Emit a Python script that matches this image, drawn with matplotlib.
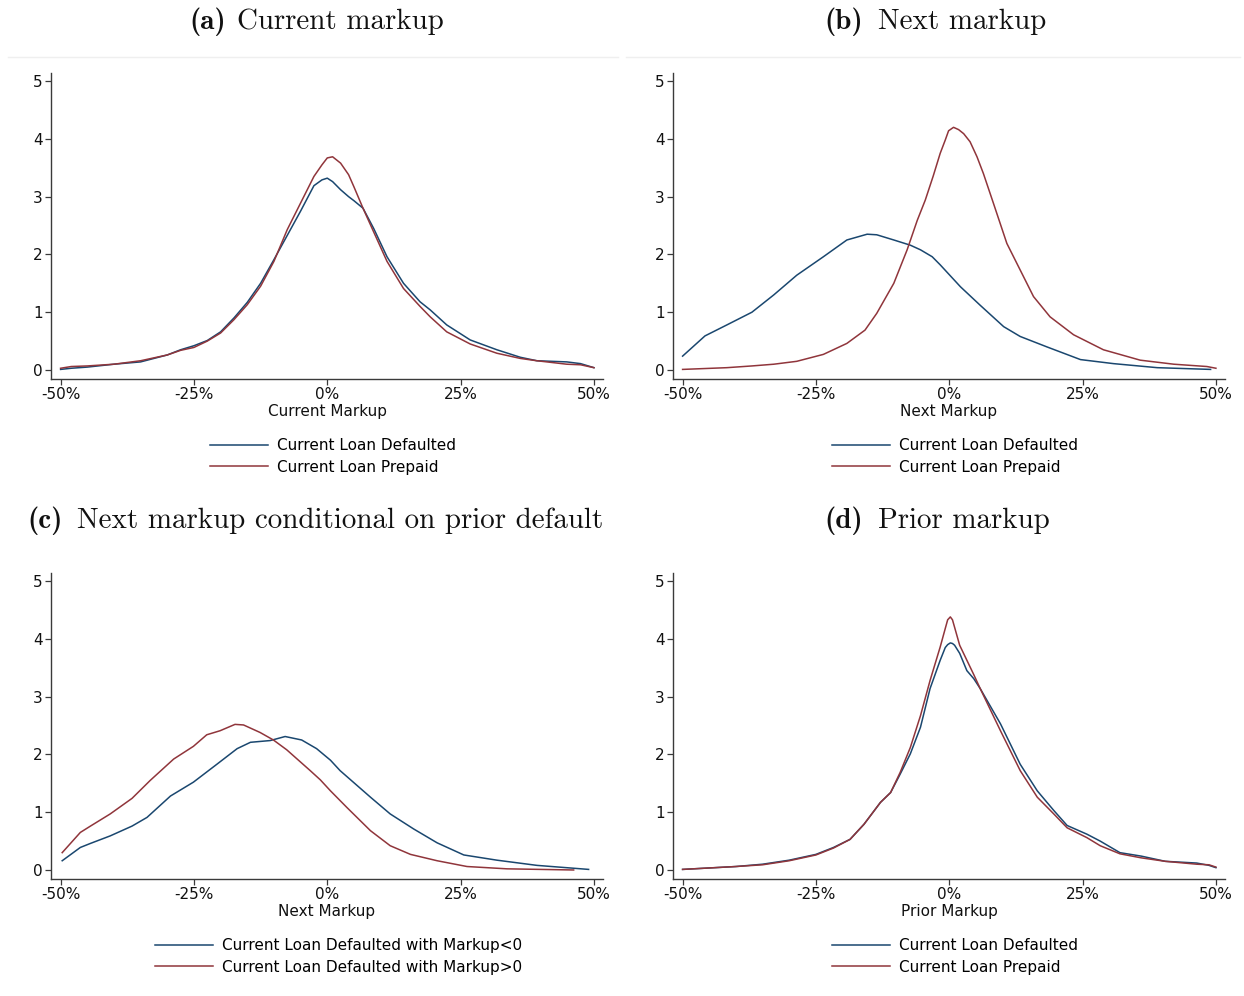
import matplotlib
matplotlib.use("Agg")
import matplotlib.pyplot as plt
from matplotlib.lines import Line2D

# ---------------- data ----------------
xtick_vals = [-50, -25, 0, 25, 50]
xtick_labels = ["-50%", "-25%", "0%", "25%", "50%"]
ytick_vals = [0, 1, 2, 3, 4, 5]

titles = ["(a)", "(b)", "(c)", "(d)"]
title_texts = ["Current markup", "Next markup",
               "Next markup conditional on prior default", "Prior markup"]
xlabels = ["Current Markup", "Next Markup", "Next Markup", "Prior Markup"]
legend_std = ["Current Loan Defaulted", "Current Loan Prepaid"]
legend_c = ["Current Loan Defaulted with Markup<0",
            "Current Loan Defaulted with Markup>0"]

# (a) current markup
a_x = [-50, -48, -45, -40, -35, -30, -27.5, -25, -22.5, -20, -17.5, -15, -12.5,
       -10, -7.5, -5, -2.5, -1, 0, 1, 2.5, 4, 5, 6.7, 8.7, 11.2, 14.3, 17.4,
       19.3, 22.4, 26.8, 31.8, 36.2, 39.3, 44.9, 47.5, 50]
a_blue = [0.01, 0.03, 0.05, 0.10, 0.14, 0.26, 0.35, 0.42, 0.51, 0.66, 0.90, 1.17,
          1.50, 1.91, 2.33, 2.75, 3.19, 3.29, 3.32, 3.26, 3.12, 3.00, 2.93, 2.80,
          2.45, 1.96, 1.50, 1.18, 1.04, 0.78, 0.52, 0.35, 0.22, 0.16, 0.14, 0.11, 0.04]
a_red = [0.03, 0.06, 0.07, 0.10, 0.16, 0.26, 0.34, 0.39, 0.50, 0.64, 0.87, 1.13,
         1.45, 1.88, 2.43, 2.89, 3.35, 3.55, 3.67, 3.69, 3.58, 3.38, 3.17, 2.80,
         2.39, 1.88, 1.41, 1.10, 0.92, 0.66, 0.45, 0.29, 0.20, 0.16, 0.10, 0.09, 0.04]

# (b) next markup
b_x_blue = [-50, -45.8, -41.7, -37, -32.9, -28.6, -23.6, -19.2, -15.4, -13.6, -10.4,
            -7.3, -5.4, -3.2, -1.7, 0.2, 2.1, 5.8, 10.2, 13.3, 18.3, 24.6, 30.8, 39, 49]
b_blue = [0.24, 0.59, 0.78, 1.00, 1.30, 1.64, 1.96, 2.25, 2.35, 2.34, 2.25, 2.16,
          2.08, 1.96, 1.82, 1.63, 1.44, 1.12, 0.75, 0.58, 0.40, 0.18, 0.11, 0.04, 0.01]
b_x_red = [-50, -41.7, -37, -32.9, -28.6, -23.6, -19.2, -15.8, -13.6, -10.4, -7.9,
           -6.0, -4.5, -3.0, -1.7, -0.75, -0.13, 0.8, 1.75, 2.7, 3.9, 5.2, 6.4, 8.3,
           10.8, 13.3, 15.8, 18.9, 23.3, 28.9, 35.8, 42.1, 48.3, 50]
b_red = [0.01, 0.04, 0.07, 0.10, 0.15, 0.27, 0.46, 0.69, 0.98, 1.50, 2.08, 2.59,
         2.94, 3.36, 3.75, 3.98, 4.14, 4.20, 4.16, 4.09, 3.95, 3.69, 3.40, 2.88,
         2.19, 1.73, 1.27, 0.92, 0.61, 0.35, 0.17, 0.10, 0.06, 0.03]

# (c) next markup conditional on prior default
c_x_blue = [-49.7, -46.3, -44.4, -40.7, -36.6, -33.8, -29.4, -25.1, -20.7, -16.9,
            -14.4, -10.7, -7.9, -4.8, -2.0, 0.6, 2.4, 8.1, 11.8, 16.2, 20.6, 25.6,
            31.8, 39.3, 49.0]
c_blue = [0.16, 0.39, 0.46, 0.59, 0.76, 0.91, 1.28, 1.52, 1.83, 2.10, 2.21, 2.24,
          2.31, 2.25, 2.10, 1.90, 1.72, 1.26, 0.97, 0.71, 0.47, 0.26, 0.17, 0.08, 0.01]
c_x_red = [-49.7, -46.3, -44.4, -40.7, -36.6, -33.2, -28.8, -25.1, -22.6, -20.1,
           -17.3, -15.7, -12.6, -10.1, -7.6, -3.2, -1.3, 0.6, 3.7, 8.1, 11.8, 15.6,
           20.6, 26.2, 33.7, 46.2]
c_red = [0.30, 0.65, 0.76, 0.97, 1.24, 1.55, 1.92, 2.14, 2.34, 2.41, 2.52, 2.51,
         2.38, 2.25, 2.08, 1.72, 1.56, 1.37, 1.08, 0.68, 0.42, 0.27, 0.16, 0.06,
         0.02, 0.00]

# (d) prior markup
d_x = [-50, -40, -35, -30, -25, -21.7, -18.6, -16, -12.9, -11, -9.2, -7.3, -5.4,
       -3.6, -1.7, -0.75, -0.3, 0.2, 0.6, 1.0, 1.95, 3.3, 4.6, 5.8, 9.6, 13.3, 16.5,
       19.6, 22.1, 25.8, 28.3, 32, 36, 40.5, 46.4, 48.7, 50]
d_blue = [0.01, 0.06, 0.10, 0.17, 0.27, 0.39, 0.53, 0.79, 1.17, 1.34, 1.66, 2.01,
          2.47, 3.14, 3.63, 3.85, 3.90, 3.93, 3.92, 3.89, 3.75, 3.45, 3.31, 3.14,
          2.53, 1.83, 1.37, 1.03, 0.77, 0.62, 0.50, 0.30, 0.24, 0.15, 0.12, 0.08, 0.04]
d_red = [0.01, 0.06, 0.09, 0.16, 0.26, 0.38, 0.53, 0.79, 1.17, 1.34, 1.69, 2.12,
         2.67, 3.28, 3.86, 4.18, 4.33, 4.38, 4.33, 4.20, 3.89, 3.63, 3.38, 3.14,
         2.41, 1.72, 1.26, 0.97, 0.73, 0.56, 0.42, 0.28, 0.21, 0.15, 0.10, 0.09, 0.05]

# ---------------- styling ----------------
NAVY = "#1a476f"
MAROON = "#90353b"
SPINE = "#3a3a3a"
W, H = 1244, 996

plt.rcParams["font.family"] = ["DejaVu Sans"]

fig = plt.figure(figsize=(W / 100, H / 100), dpi=100)

def fx(px):
    return px / W

def fy(py):
    return 1 - py / H

# axes boxes in pixels: left, top, right, bottom
boxes = [(51, 73, 603, 379), (673, 73, 1225, 379),
         (51, 573, 603, 879), (673, 573, 1225, 879)]
# (right edge of bold label, left edge of title text, y centre)
title_pos = [(226, 237, 22), (863, 878, 22), (63, 77, 521), (863, 878, 521)]
legend_pos = [(210, 438), (832, 438), (155, 938), (832, 938)]

series = [
    ((a_x, a_blue), (a_x, a_red), legend_std),
    ((b_x_blue, b_blue), (b_x_red, b_red), legend_std),
    ((c_x_blue, c_blue), (c_x_red, c_red), legend_c),
    ((d_x, d_blue), (d_x, d_red), legend_std),
]

for i, (box, (sb, sr, labs)) in enumerate(zip(boxes, series)):
    l, t, r, b = box
    ax = fig.add_axes([fx(l), fy(b), (r - l) / W, (b - t) / H])
    ax.plot(sb[0], sb[1], color=NAVY, lw=1.1, label=labs[0])
    ax.plot(sr[0], sr[1], color=MAROON, lw=1.1, label=labs[1])
    ax.set_xlim(-51.8, 51.7)
    ax.set_ylim(-0.156, 5.14)
    ax.set_xticks(xtick_vals)
    ax.set_xticklabels(xtick_labels)
    ax.set_yticks(ytick_vals)
    ax.set_yticklabels([str(v) for v in ytick_vals])
    for s in ["top", "right"]:
        ax.spines[s].set_visible(False)
    for s in ["left", "bottom"]:
        ax.spines[s].set_color(SPINE)
        ax.spines[s].set_linewidth(1.0)
    ax.tick_params(axis="both", direction="out", length=4, width=0.9,
                   color=SPINE, labelsize=11, pad=2, labelcolor="#111111")
    ax.set_xlabel(xlabels[i], fontsize=11, labelpad=1, color="#111111")
    ax.legend(loc="upper left", bbox_to_anchor=(fx(legend_pos[i][0]), fy(legend_pos[i][1])),
              bbox_transform=fig.transFigure, frameon=False, fontsize=11,
              handlelength=3.8, handletextpad=0.6, borderpad=0, borderaxespad=0,
              labelspacing=0.43)
    bx, tx, ty = title_pos[i]
    fig.text(fx(bx), fy(ty), titles[i], family="cmb10", fontsize=20.9,
             ha="right", va="center", color="#111111")
    fig.text(fx(tx), fy(ty), title_texts[i], family="cmr10", fontsize=20.9,
             ha="left", va="center", color="#111111")

# faint separators under top titles
fig.add_artist(Line2D([fx(8), fx(618)], [fy(57), fy(57)], color="#efefef", lw=1))
fig.add_artist(Line2D([fx(626), fx(1240)], [fy(57), fy(57)], color="#efefef", lw=1))

fig.savefig("out.png", dpi=100, facecolor="white")
